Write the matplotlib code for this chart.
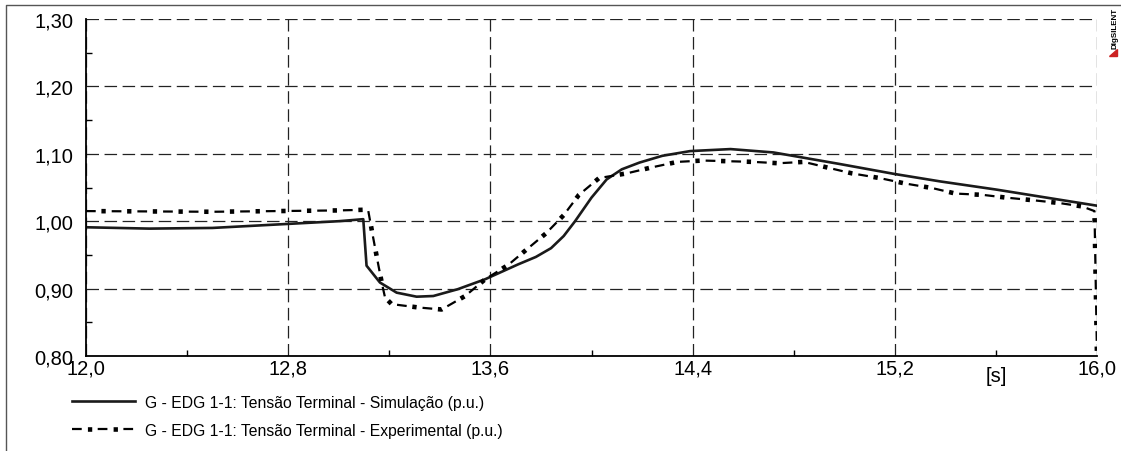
import matplotlib
matplotlib.use("Agg")
import matplotlib.pyplot as plt
from matplotlib.lines import Line2D
from matplotlib.patches import Polygon
import matplotlib.transforms as mtransforms

plt.rcParams['font.family'] = ['Liberation Sans', 'DejaVu Sans']
plt.rcParams['lines.scale_dashes'] = False

# tensao terminal - simulacao (p.u.)
sim_t = [12.0, 12.25, 12.5, 12.8, 13.0, 13.097, 13.110, 13.163, 13.229, 13.308,
         13.374, 13.47, 13.58, 13.71, 13.78, 13.84, 13.89, 13.935, 14.0, 14.06,
         14.12, 14.19, 14.28, 14.39, 14.55, 14.72, 14.98, 15.2, 15.38, 15.6,
         15.8, 16.0]
sim_v = [0.991, 0.989, 0.990, 0.996, 1.000, 1.003, 0.934, 0.909, 0.894, 0.888,
         0.889, 0.899, 0.914, 0.936, 0.947, 0.960, 0.978, 1.000, 1.035, 1.062,
         1.077, 1.087, 1.097, 1.104, 1.107, 1.102, 1.085, 1.070, 1.059, 1.047,
         1.035, 1.023]

# tensao terminal - experimental (p.u.)
exp_t = [12.0, 12.5, 13.0, 13.105, 13.117, 13.130, 13.150, 13.170, 13.183,
         13.209, 13.315, 13.407, 13.50, 13.58, 13.67, 13.74, 13.82, 13.89,
         13.95, 14.03, 14.14, 14.24, 14.34, 14.44, 14.54, 14.64, 14.74, 14.84,
         14.94, 15.03, 15.14, 15.24, 15.35, 15.44, 15.55, 15.64, 15.75, 15.85,
         15.94, 15.99, 16.0]
exp_v = [1.015, 1.014, 1.016, 1.017, 1.015, 0.988, 0.948, 0.909, 0.887,
         0.877, 0.872, 0.869, 0.889, 0.914, 0.935, 0.957, 0.982, 1.009,
         1.039, 1.064, 1.071, 1.080, 1.088, 1.090, 1.089, 1.088, 1.086, 1.088,
         1.079, 1.071, 1.064, 1.056, 1.049, 1.041, 1.039, 1.035, 1.031, 1.027,
         1.022, 1.015, 0.80]

x_ticks = [12.0, 12.8, 13.6, 14.4, 15.2, 16.0]
y_ticks = [0.80, 0.90, 1.00, 1.10, 1.20, 1.30]

lab_sim = 'G - EDG 1-1: Tensão Terminal - Simulação (p.u.)'
lab_exp = 'G - EDG 1-1: Tensão Terminal - Experimental (p.u.)'

# line styles: solid, and dash + square built from two overlaid dashed lines
sim_style = dict(color='#1a1a1a', lw=1.9, solid_joinstyle='round')
dash_style = dict(color='black', lw=1.6, linestyle=(0, (7.0, 11.5)),
                  dash_capstyle='butt')
sq_style = dict(color='black', lw=3.3, linestyle=(7.4, (3.1, 15.4)),
                dash_capstyle='butt')

W, H = 1121, 452
fig = plt.figure(figsize=(W / 100, H / 100), dpi=100)
ax = fig.add_axes([86 / W, 95 / H, 1011 / W, 337 / H])

ax.plot(sim_t, sim_v, **sim_style)
ax.plot(exp_t, exp_v, **dash_style)
ax.plot(exp_t, exp_v, **sq_style)

ax.set_xlim(12.0, 16.0)
ax.set_ylim(0.80, 1.30)
ax.set_xticks(x_ticks)
ax.set_yticks(y_ticks)
ax.set_xticklabels([f'{v:.1f}'.replace('.', ',') for v in x_ticks])
ax.set_yticklabels([f'{v:.2f}'.replace('.', ',') for v in y_ticks])
ax.set_xticks([12.4, 13.2, 14.0, 14.8, 15.6], minor=True)
ax.set_yticks([0.85, 0.95, 1.05, 1.15, 1.25], minor=True)
ax.tick_params(which='major', length=0, labelsize=14.5, colors='black')
ax.tick_params(axis='y', which='major', pad=9)
ax.tick_params(axis='x', which='major', pad=2)
ax.tick_params(which='minor', direction='in', length=4, width=1, color='black')

ax.grid(True, which='major', color='#222222', lw=0.9, linestyle=(0, (9, 4)))
ax.set_axisbelow(True)
for s in ['top', 'right']:
    ax.spines[s].set_visible(False)
for s in ['left', 'bottom']:
    ax.spines[s].set_linewidth(1.3)

# unit label at the 15.6 position
trans = mtransforms.blended_transform_factory(ax.transData, ax.transAxes)
ax.text(15.6, -0.031, '[s]', transform=trans, ha='center', va='top', fontsize=14.5)

# legend under the plot, drawn by hand so the dash pattern starts on the left
x0, x1, xt = 72 / W, 135 / W, 145 / W
for row, (label, styles) in enumerate([(lab_sim, [sim_style]),
                                       (lab_exp, [dash_style, sq_style])]):
    yy = 1 - (402 + 28 * row) / H
    for st in styles:
        fig.lines.append(Line2D([x0, x1], [yy, yy], transform=fig.transFigure, **st))
    fig.text(xt, yy, label, ha='left', va='center_baseline', fontsize=11.3)

# outer frame of the plot page (left and top edges)
fig.lines.append(Line2D([5.5 / W, 5.5 / W, 1.0], [0.0, 1 - 5.5 / H, 1 - 5.5 / H],
                        transform=fig.transFigure, color='#555555', lw=1))

# DIgSILENT mark
fig.text(1115 / W, 1 - 49 / H, 'DIgSILENT', rotation=90, ha='center', va='bottom',
         fontsize=5.8, fontweight='bold', color='black')
fig.patches.append(Polygon([(1117 / W, 1 - 50 / H), (1117 / W, 1 - 57 / H),
                            (1109 / W, 1 - 57 / H)], closed=True,
                           transform=fig.transFigure, color='#cc2222'))

fig.savefig('out.png', dpi=100)
